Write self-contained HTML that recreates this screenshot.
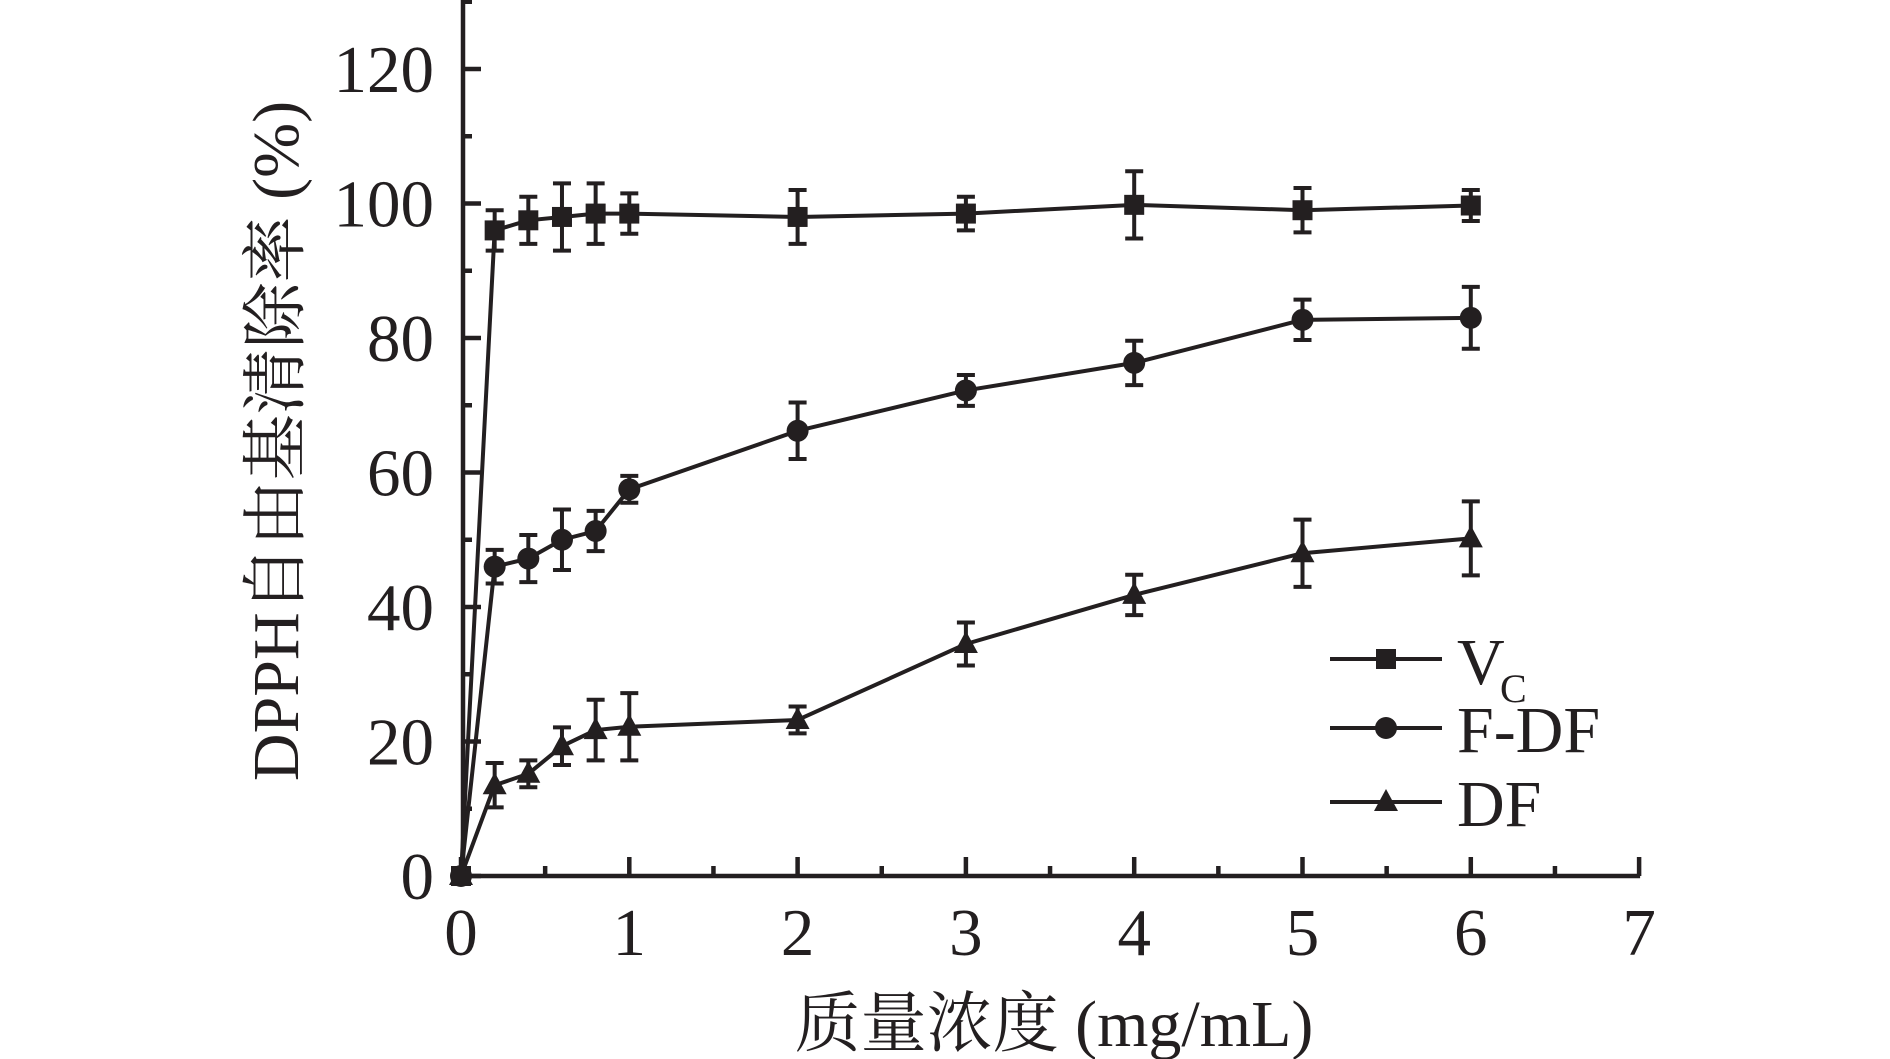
<!DOCTYPE html>
<html><head><meta charset="utf-8"><style>
html,body{margin:0;padding:0;background:#fff;}
svg{display:block;}
text{font-family:"Liberation Serif","Noto Serif CJK SC",serif;fill:#231f20;}
</style></head><body>
<svg id="s" width="1890" height="1059" viewBox="0 0 1890 1059" xmlns="http://www.w3.org/2000/svg">
<g id="ax" stroke="#231f20" stroke-width="4.5" fill="none"></g>
<g id="data"></g>
<g font-size="66">
<text x="1457" y="684">V</text><text x="1500" y="702" font-size="40">C</text>
<text x="1457" y="752">F-DF</text>
<text x="1457" y="826">DF</text>
</g>
<text transform="translate(298,441) rotate(-90)" text-anchor="middle" font-size="66">DPPH自由基清除率 (%)</text>
<text x="1054" y="1046" text-anchor="middle" font-size="66">质量浓度 (mg/mL)</text>
<g id="lbl" font-size="67"></g>
</svg>
<script>
const NS="http://www.w3.org/2000/svg";
const X=v=>461+v*168.3, Y=v=>876-v*6.725;
function el(p,t,a){const e=document.createElementNS(NS,t);for(const k in a)e.setAttribute(k,a[k]);p.appendChild(e);return e;}
const ax=document.getElementById('ax'),lbl=document.getElementById('lbl'),d=document.getElementById('data');
el(ax,'line',{x1:463,y1:0,x2:463,y2:877});
el(ax,'line',{x1:461,y1:876,x2:X(7)+1,y2:876});
for(let v=0;v<=130;v+=10){const y=Y(v);if(v%20==0){el(ax,'line',{x1:463,y1:y,x2:481,y2:y});el(lbl,'text',{x:434,y:y+23,'text-anchor':'end'}).textContent=v;}else el(ax,'line',{x1:463,y1:y,x2:472,y2:y});}
for(let v=0;v<=7;v+=0.5){const x=X(v);if(v%1==0){el(ax,'line',{x1:x,y1:876,x2:x,y2:857});el(lbl,'text',{x:x,y:955,'text-anchor':'middle'}).textContent=v;}else el(ax,'line',{x1:x,y1:876,x2:x,y2:866});}
const xs=[0,0.2,0.4,0.6,0.8,1,2,3,4,5,6];
const S=[
 {m:'sq',v:[0,96,97.5,98,98.5,98.5,98,98.5,99.8,99,99.7],e:[0,3,3.5,5,4.5,3,4,2.5,5,3.3,2.3]},
 {m:'ci',v:[0,46,47.2,50,51.3,57.5,66.2,72.2,76.3,82.7,83],e:[0,2.5,3.5,4.5,3,2,4.2,2.3,3.3,3,4.6]},
 {m:'tr',v:[0,13.5,15.2,19.3,21.7,22.2,23.2,34.5,41.8,48,50.2],e:[0,3.3,2,2.8,4.5,5,2,3.2,3,5,5.5]}];
const c='#231f20';
function mark(g,m,x,y){if(m=='sq')el(g,'rect',{x:x-10,y:y-10,width:20,height:20,fill:c});
 else if(m=='ci')el(g,'circle',{cx:x,cy:y,r:11,fill:c});
 else el(g,'polygon',{points:`${x},${y-13} ${x-12},${y+9} ${x+12},${y+9}`,fill:c});}
S.forEach(s=>{
 el(d,'polyline',{points:xs.map((x,i)=>X(x)+','+Y(s.v[i])).join(' '),fill:'none',stroke:c,'stroke-width':4,'stroke-linejoin':'round'});
 xs.forEach((x,i)=>{if(s.e[i]>0){const px=X(x),t=Y(s.v[i]+s.e[i]),b=Y(s.v[i]-s.e[i]);
  el(d,'path',{d:`M${px},${t}V${b}M${px-9},${t}H${px+9}M${px-9},${b}H${px+9}`,stroke:c,'stroke-width':4,fill:'none'});}
  mark(d,s.m,X(x),Y(s.v[i]));});
});
[[659,'sq'],[728,'ci'],[802,'tr']].forEach(([y,m])=>{el(d,'line',{x1:1330,y1:y,x2:1442,y2:y,stroke:c,'stroke-width':4});mark(d,m,1386,y);});
</script>
</body></html>
